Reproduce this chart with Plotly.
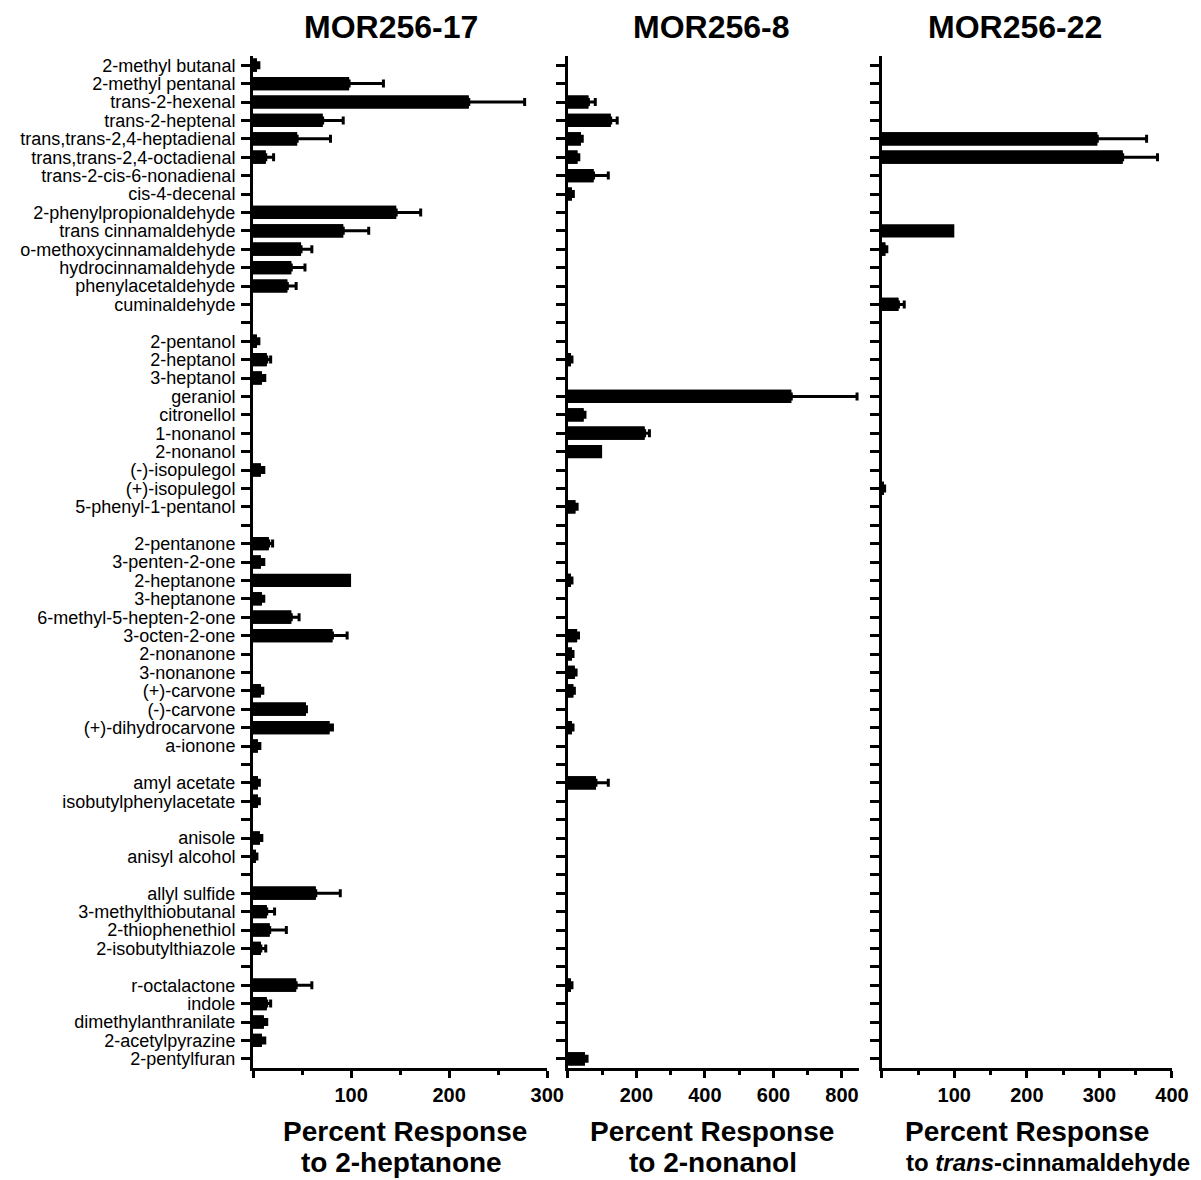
import plotly.graph_objects as go

# ---------------- data ----------------
compounds = [
    "2-methyl butanal", "2-methyl pentanal", "trans-2-hexenal", "trans-2-heptenal",
    "trans,trans-2,4-heptadienal", "trans,trans-2,4-octadienal", "trans-2-cis-6-nonadienal",
    "cis-4-decenal", "2-phenylpropionaldehyde", "trans cinnamaldehyde",
    "o-methoxycinnamaldehyde", "hydrocinnamaldehyde", "phenylacetaldehyde", "cuminaldehyde",
    "",
    "2-pentanol", "2-heptanol", "3-heptanol", "geraniol", "citronellol", "1-nonanol",
    "2-nonanol", "(-)-isopulegol", "(+)-isopulegol", "5-phenyl-1-pentanol",
    "",
    "2-pentanone", "3-penten-2-one", "2-heptanone", "3-heptanone", "6-methyl-5-hepten-2-one",
    "3-octen-2-one", "2-nonanone", "3-nonanone", "(+)-carvone", "(-)-carvone",
    "(+)-dihydrocarvone", "a-ionone",
    "",
    "amyl acetate", "isobutylphenylacetate",
    "",
    "anisole", "anisyl alcohol",
    "",
    "allyl sulfide", "3-methylthiobutanal", "2-thiophenethiol", "2-isobutylthiazole",
    "",
    "r-octalactone", "indole", "dimethylanthranilate", "2-acetylpyrazine", "2-pentylfuran",
]

mor256_17 = [4, 98, 220, 71, 45, 13, 0, 0, 146, 92, 49, 39, 35, 0,
             0,
             4, 14, 9, 0, 0, 0, 0, 8, 0, 0,
             0,
             16, 8, 100, 9, 39, 81, 0, 0, 8, 54, 78, 5,
             0,
             5, 5,
             0,
             7, 3,
             0,
             64, 14, 17, 8,
             0,
             44, 14, 11, 9, 0]
mor256_17_err = [2, 35, 57, 21, 34, 8, 0, 0, 25, 26, 11, 14, 9, 0,
                 0,
                 2, 4, 3, 0, 0, 0, 0, 3, 0, 0,
                 0,
                 4, 3, 0, 2, 8, 15, 0, 0, 2, 0.5, 3, 2,
                 0,
                 1.5, 1.5,
                 0,
                 2, 1,
                 0,
                 25, 8, 17, 5,
                 0,
                 16, 4, 3, 3, 0]

mor256_8 = [0, 0, 60, 125, 38, 28, 75, 12, 0, 0, 0, 0, 0, 0,
            0,
            0, 9, 0, 652, 46, 224, 100, 0, 0, 22,
            0,
            0, 0, 9, 0, 0, 27, 12, 20, 16, 0, 12, 0,
            0,
            82, 0,
            0,
            0, 0,
            0,
            0, 0, 0, 0,
            0,
            9, 0, 0, 0, 50]
mor256_8_err = [0, 0, 20, 19, 4, 4, 43, 4, 0, 0, 0, 0, 0, 0,
                0,
                0, 3, 0, 192, 4, 14, 0, 0, 0, 5,
                0,
                0, 0, 3, 0, 0, 4, 3, 4, 3, 0, 3, 0,
                0,
                36, 0,
                0,
                0, 0,
                0,
                0, 0, 0, 0,
                0,
                3, 0, 0, 0, 6]

mor256_22 = [0, 0, 0, 0, 297, 332, 0, 0, 0, 100, 5, 0, 0, 23,
             0,
             0, 0, 0, 0, 0, 0, 0, 0, 3, 0,
             0] + [0] * 29
mor256_22_err = [0, 0, 0, 0, 68, 48, 0, 0, 0, 0, 2, 0, 0, 8,
                 0,
                 0, 0, 0, 0, 0, 0, 0, 0, 1, 0,
                 0] + [0] * 29

panel_titles = ["MOR256-17", "MOR256-8", "MOR256-22"]
axis_title_line1 = ["Percent Response", "Percent Response", "Percent Response"]
axis_title_line2 = ["to 2-heptanone", "to 2-nonanol", "to <i>trans</i>-cinnamaldehyde"]

x_tickvals = [[0, 100, 200, 300], [0, 200, 400, 600, 800], [0, 100, 200, 300, 400]]
x_ticktext = [["", "100", "200", "300"], ["", "200", "400", "600", "800"],
              ["", "100", "200", "300", "400"]]
x_ranges = [[0, 300], [0, 850], [0, 400]]
x_minor = [50, 100, 50]

# ---------------- layout helpers ----------------
# the page body adds an 8 px offset; design in page pixels and compensate
OFF = 8
PAGE_W, PAGE_H = 1201, 1180
W, H = PAGE_W - OFF, PAGE_H - OFF
LEFT, RIGHT, TOP, BOTTOM = 246, 1180, 56, 1068   # plot area in page pixels
ML, MT = LEFT - OFF, TOP - OFF
MR, MB = W - (RIGHT - OFF), H - (BOTTOM - OFF)
PW, PH = W - ML - MR, H - MT - MB


def fx(px):
    return (px - OFF - ML) / PW


def fy(py):
    return (H - MB - (py - OFF)) / PH


FONT = "Liberation Sans, Arial, sans-serif"
positions = list(range(len(compounds)))
domains = [[0, fx(545)], [fx(566), fx(862)], [fx(885), 1.0]]

fig = go.Figure()
series = [(mor256_17, mor256_17_err), (mor256_8, mor256_8_err), (mor256_22, mor256_22_err)]

for i, (vals, errs) in enumerate(series):
    xa = "x" if i == 0 else f"x{i+1}"
    ya = "y" if i == 0 else f"y{i+1}"
    bx = [v for v in vals if v > 0]
    by = [p for p, v in zip(positions, vals) if v > 0]
    fig.add_trace(go.Bar(x=bx, y=by, orientation="h", xaxis=xa, yaxis=ya,
                         marker=dict(color="black", line=dict(width=0)),
                         width=0.72, showlegend=False, hoverinfo="x+y"))
    ex = [v for v, e in zip(vals, errs) if v > 0 and e > 0]
    ey = [p for p, v, e in zip(positions, vals, errs) if v > 0 and e > 0]
    ee = [e for v, e in zip(vals, errs) if v > 0 and e > 0]
    fig.add_trace(go.Bar(x=ex, y=ey, orientation="h", xaxis=xa, yaxis=ya,
                         marker=dict(color="black", line=dict(width=0)),
                         width=0.72, showlegend=False,
                         error_x=dict(type="data", array=ee, arrayminus=[0] * len(ee),
                                      symmetric=False, color="black",
                                      thickness=3, width=4)))

for i in range(3):
    sfx = "" if i == 0 else str(i + 1)
    fig.layout["xaxis" + sfx] = dict(
        domain=domains[i], range=x_ranges[i], anchor="y" + sfx,
        showline=True, linewidth=3, linecolor="black", showgrid=False, zeroline=False,
        tickmode="array", tickvals=x_tickvals[i], ticktext=x_ticktext[i],
        ticks="outside", ticklen=7, tickwidth=3, tickcolor="black",
        tickfont=dict(family=FONT, size=20, color="black", weight="bold"),
        minor=dict(dtick=x_minor[i], tick0=0, ticks="outside", ticklen=4,
                   tickwidth=3, tickcolor="black", showgrid=False),
        fixedrange=True,
    )
    fig.layout["yaxis" + sfx] = dict(
        domain=[0, 1], range=[len(compounds) - 0.5, -0.5], anchor="x" + sfx,
        showline=True, linewidth=3, linecolor="black", showgrid=False, zeroline=False,
        tickmode="array", tickvals=positions,
        ticktext=compounds if i == 0 else [""] * len(compounds),
        showticklabels=(i == 0),
        ticks="outside", ticklen=9, tickwidth=3, tickcolor="black",
        tickfont=dict(family=FONT, size=18, color="black"),
        ticklabelstandoff=2,
        fixedrange=True,
    )

title_x = [386, 712, 1020]
line1_x = [400, 712, 1033]
line2_x = [397, 713, 1054]
line2_size = [28, 28, 24]
annotations = []
for i in range(3):
    annotations.append(dict(text=f"<b>{panel_titles[i]}</b>", x=fx(title_x[i]), y=fy(27),
                            xref="paper", yref="paper", xanchor="center", yanchor="middle",
                            showarrow=False, font=dict(family=FONT, size=32, color="black")))
    annotations.append(dict(text=f"<b>{axis_title_line1[i]}</b>", x=fx(line1_x[i]), y=fy(1131),
                            xref="paper", yref="paper", xanchor="center", yanchor="middle",
                            showarrow=False, font=dict(family=FONT, size=28, color="black")))
    annotations.append(dict(text=f"<b>{axis_title_line2[i]}</b>", x=fx(line2_x[i]), y=fy(1162),
                            xref="paper", yref="paper", xanchor="center", yanchor="middle",
                            showarrow=False,
                            font=dict(family=FONT, size=line2_size[i], color="black")))

fig.update_layout(
    width=W, height=H,
    margin=dict(l=ML, r=MR, t=MT, b=MB, pad=0),
    paper_bgcolor="white", plot_bgcolor="white",
    barmode="overlay", bargap=0.28,
    annotations=annotations,
    font=dict(family=FONT, color="black"),
)

fig.write_html("out.html")
